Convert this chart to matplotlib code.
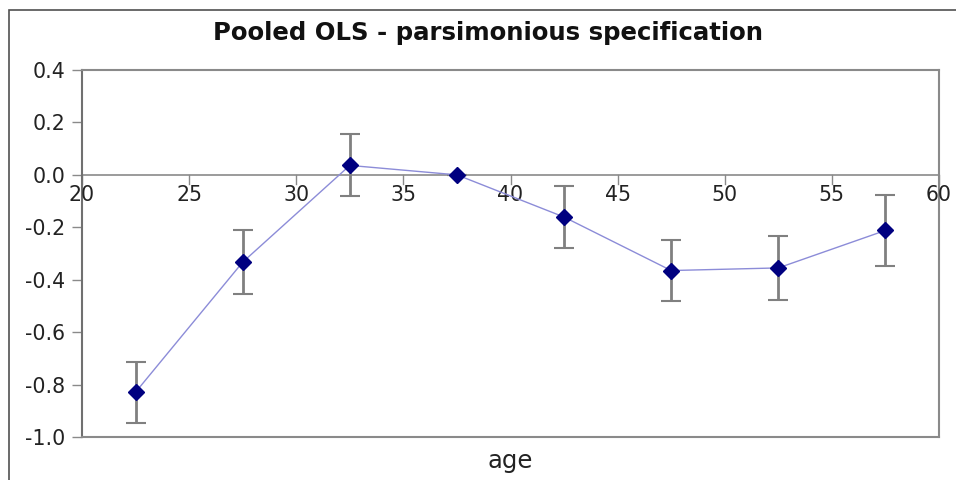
import matplotlib
matplotlib.use("Agg")
import matplotlib.pyplot as plt
from matplotlib.patches import Rectangle

ages = [22.5, 27.5, 32.5, 37.5, 42.5, 47.5, 52.5, 57.5]
coef = [-0.829, -0.333, 0.036, 0.0, -0.161, -0.365, -0.355, -0.212]
err = [0.117, 0.121, 0.118, 0.0, 0.119, 0.117, 0.122, 0.134]
xticks = [20, 25, 30, 35, 40, 45, 50, 55, 60]
yticks = [0.4, 0.2, 0.0, -0.2, -0.4, -0.6, -0.8, -1.0]

W, H = 956, 480
fig = plt.figure(figsize=(W / 100, H / 100), dpi=100)
fig.patch.set_facecolor("white")

# outer frame
fig.patches.append(Rectangle((9 / W, -0.1), 1.2, 1 - 10 / H + 0.1, transform=fig.transFigure,
                             fill=False, edgecolor="#505050", linewidth=1.2))

left, right, top, bottom = 82, 939, 70, 437
ax = fig.add_axes([left / W, 1 - bottom / H, (right - left) / W, (bottom - top) / H])
ax.set_xlim(20, 60)
ax.set_ylim(-1.0, 0.4)

for s in ["top", "right", "bottom"]:
    ax.spines[s].set_color("#8a8a8a")
    ax.spines[s].set_linewidth(1.5)
ax.spines["left"].set_color("#707070")
ax.spines["left"].set_linewidth(1.5)

# zero line as x-axis
ax.axhline(0, color="#8a8a8a", linewidth=1.2, zorder=1)

ax.set_yticks(yticks)
ax.set_yticklabels([f"{v:.1f}" for v in yticks], fontsize=14.8, color="#222222")
ax.tick_params(axis="y", length=7, width=1, color="#8a8a8a", pad=5)
ax.set_xticks([])

# x tick marks and labels at y=0
for xt in xticks:
    ax.plot([xt, xt], [0, -0.035], color="#8a8a8a", linewidth=1, zorder=1, clip_on=False)
    ax.text(xt, -0.078, str(xt), ha="center", va="center", fontsize=14.8, color="#222222")

ax.errorbar(ages, coef, yerr=err, fmt="none", ecolor="#808080", elinewidth=2,
            capsize=7.5, capthick=1.5, zorder=2)
ax.plot(ages, coef, color="#8c8cd8", linewidth=1, zorder=3)
ax.plot(ages, coef, linestyle="none", marker="D", markersize=8, color="#000080", zorder=4)

fig.text(488 / W, 1 - 33 / H, "Pooled OLS - parsimonious specification", ha="center", va="center",
         fontsize=17.6, fontweight="bold", color="#111111")
fig.text(510 / W, 1 - 461 / H, "age", ha="center", va="center", fontsize=17.5, color="#222222")

fig.savefig("out.png", dpi=100, facecolor="white")
